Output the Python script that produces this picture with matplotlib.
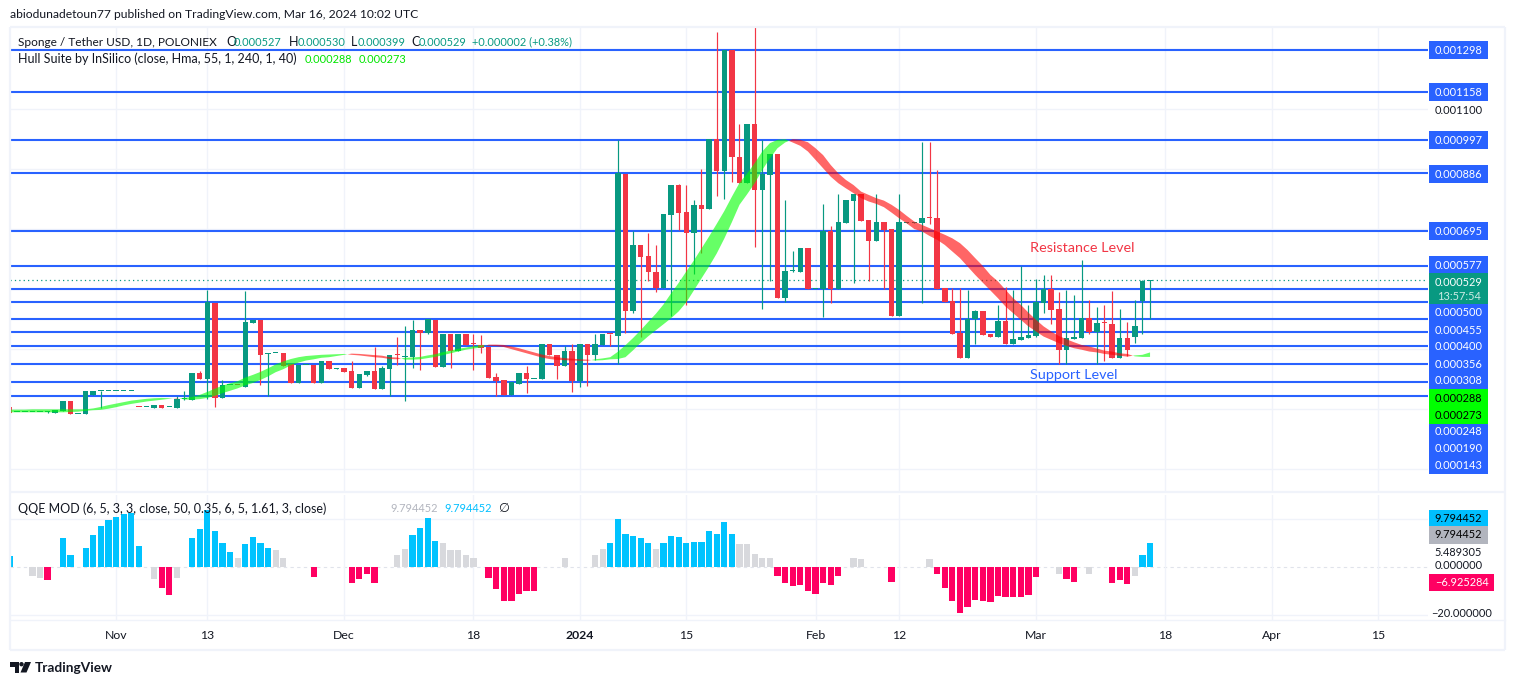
import numpy as np
import matplotlib
matplotlib.use("Agg")
import matplotlib.pyplot as plt
from matplotlib.patches import Rectangle, Polygon, Circle

plt.rcParams['font.family'] = ['Lato', 'DejaVu Sans']

# ---------- data (prices in millionths of USDT), one candle per day from 18 Oct 2023 ----------
opens = [105,88,88,88,88,88,87,93,126,82,
         81,146,158,158,158,158,158,106,105,103,
         113,105,103,131,130,220,200,452,136,178,
         179,173,387,397,284,285,287,250,186,246,
         247,186,260,234,236,226,170,213,226,166,
         233,280,274,273,363,353,397,240,350,293,
         350,316,313,307,206,196,146,184,220,198,
         198,317,280,244,293,191,317,281,314,350,
         344,884,427,647,610,557,502,748,847,757,
         688,781,768,1000,895,1298,941,855,1051,832,
         879,951,471,559,558,637,499,499,695,499,
         721,794,817,731,661,724,701,410,721,721,
         721,737,737,504,460,353,270,399,427,350,
         340,393,317,330,337,343,454,499,434,297,
         333,337,403,357,387,383,270,337,340,460,527]
highs = [105,89,89,89,89,93,96,126,126,82,
         160,160,160,159,159,159,159,106,106,113,
         113,106,144,160,220,226,497,452,196,180,
         179,494,397,397,286,286,287,250,247,247,
         247,260,260,236,236,260,216,226,306,243,
         280,340,377,397,363,400,397,350,350,350,
         350,350,347,307,220,196,189,220,244,199,
         317,317,280,308,317,317,317,350,350,350,
         997,884,692,647,686,647,751,847,851,847,
         797,900,1000,1358,1298,1298,1051,1051,1374,998,
         951,951,797,627,637,637,500,784,710,817,
         797,817,817,731,817,724,701,817,722,722,
         991,991,898,504,504,504,497,430,427,350,
         447,507,497,577,447,534,547,547,490,497,
         480,597,464,440,447,494,434,390,464,530,530]
lows = [87,88,88,88,88,87,87,93,81,81,
        81,146,101,158,158,158,158,105,105,103,
        103,105,103,130,130,200,133,106,136,178,
        178,173,387,180,144,285,244,186,186,246,
        186,186,233,234,223,170,170,210,166,166,
        141,246,127,236,230,350,240,240,236,293,
        313,230,287,203,143,146,146,184,151,198,
        198,278,200,244,157,174,177,263,314,310,
        249,352,421,338,528,491,502,410,697,445,
        550,619,768,812,801,858,855,855,641,432,
        528,471,458,558,558,499,499,405,452,499,
        721,520,727,526,661,500,410,410,721,721,
        452,717,500,457,350,270,270,317,347,340,
        340,317,317,330,337,340,420,383,250,250,
        333,337,350,250,260,270,270,277,320,350,399]
closes = [87,89,89,89,89,89,96,126,81,82,
          160,160,159,159,159,159,159,105,106,113,
          103,106,133,132,220,200,456,136,180,179,
          178,390,397,280,285,286,244,186,247,247,
          186,260,233,235,223,170,216,226,166,236,
          280,278,275,363,353,400,240,350,293,350,
          313,315,303,203,193,146,189,220,198,199,
          317,278,244,293,191,317,281,317,350,349,
          886,428,647,608,555,502,751,847,755,688,
          781,768,1000,895,1298,939,855,1051,832,883,
          951,471,559,560,637,499,500,695,499,724,
          797,817,727,661,724,697,410,724,722,722,
          737,736,500,457,350,270,400,427,347,340,
          393,317,333,340,347,456,499,430,297,337,
          340,403,357,387,385,270,337,297,377,527,529]
hull_a = [97,97,97,98,98,98,98,98,98,98,
          98,101,106,112,117,122,127,130,133,135,
          136,135,134,136,139,146,156,167,177,185,
          192,204,213,223,235,248,258,266,272,276,
          278,280,281,282,283,280,278,275,272,270,
          266,265,270,271,273,278,282,289,294,300,
          304,309,312,310,309,306,299,292,285,278,
          271,266,263,262,261,260,260,265,268,272,
          290,312,336,362,390,417,448,485,520,558,
          595,635,675,717,760,808,854,885,920,959,
          987,998,1000,989,978,959,931,903,875,853,
          836,820,803,792,784,773,755,736,719,700,
          692,677,664,647,625,603,575,547,521,495,
          469,441,419,397,375,358,341,330,319,310,
          302,297,291,288,283,280,277,274,278,280,288]
hull_b = [88,88,88,88,88,88,88,88,89,90,
          93,95,96,100,105,111,116,120,124,127,
          130,133,136,131,130,132,136,143,152,160,
          168,178,186,196,208,222,232,245,254,261,
          265,270,272,276,280,284,283,281,279,277,
          272,271,264,264,265,269,273,279,285,291,
          297,301,304,314,314,313,308,302,295,288,
          281,276,272,269,267,265,264,261,262,265,
          266,272,295,320,342,362,382,402,425,455,
          495,535,575,618,668,723,781,816,853,897,
          936,970,989,1000,998,990,970,947,914,886,
          864,847,825,814,803,795,781,764,744,725,
          714,703,692,681,669,653,630,603,577,547,
          525,497,469,447,421,397,375,358,343,332,
          322,313,308,301,294,291,285,283,275,273,273]
levels = [1298,1158,997,886,695,577,500,455,400,356,308,248,190,143]
last_price = 529
time_ticks = [14,26,44,61,75,89,106,117,135,152,166,180]
time_labels = ['Nov','13','Dec','18','2024','15','Feb','12','Mar','18','Apr','15']

qqe_idx = [0,3,4,5,7,8,10,11,12,13,14,15,16,17,19,20,21,22,
           24,25,26,27,28,29,30,31,32,33,34,35,36,40,45,46,47,48,
           51,52,53,54,55,56,57,58,59,60,61,63,64,65,66,67,68,69,73,
           77,78,79,80,81,82,83,84,85,86,87,88,89,90,91,92,93,94,95,96,97,98,99,100,
           101,102,103,104,105,106,107,108,109,111,112,116,121,
           122,123,124,125,126,127,128,129,130,131,132,133,134,135,
           138,139,140,142,145,146,147,148,149,150]
qqe_val = [4.2,-3.75,-4.9,-5.8,11.7,5,7.9,13.3,16.7,19.2,20.8,21.7,22.5,8.75,-5,-8.75,-11.7,-4.6,
           11.7,15.8,23.75,15,9.6,6.25,3.75,9.2,12.5,9.6,7.9,6.7,3.75,-4.2,-6.7,-5,-3.3,-6.7,
           5,7.1,13.3,16.25,20.4,10.8,10,6.7,6.7,5,3.75,-4.6,-9.2,-14.2,-14.2,-11.25,-10.4,-10,3.75,
           5,7.5,9.6,19.6,13.75,12.9,11.7,9.6,7.1,9.6,12.9,12.5,10,10.4,10.4,14.6,13.75,18.75,13.75,9.2,9.2,5.4,3.75,3.75,
           -3.75,-6.7,-8.3,-7.9,-10,-11.25,-6.7,-7.9,-3.75,3.75,3.3,-6.25,3.3,
           -3.3,-8.75,-14.2,-19.2,-16.7,-13.75,-14.2,-14.6,-12.1,-12.9,-12.9,-12.5,-11.7,-4.2,
           -3.3,-5.4,-6.25,-3.3,-6.7,-5.8,-7.1,-3.75,4.6,9.794]
qqe_kind = list("bggpbbbbbbbbbbgppg"
                "bbbbbbgbbbbggppppp"
                "ggbbbbgggggpppppppg"
                "ggbbbbbbgbbbbbbbbbbggggg"
                "pppppppppggpg"
                "pppppppppppppp"
                "gppgpppgbb")

# ---------- layout ----------
W, H = 1515, 685
BAR_PX = 7.603
X0 = 9.6
C_GREEN, C_RED, C_BLUE = '#089981', '#F23645', '#2962FF'
C_GRID, C_TEXT = '#F0F3FA', '#131722'

fig = plt.figure(figsize=(W/100, H/100), dpi=100, facecolor='white')

def axes_px(l, t, r, b):
    return fig.add_axes([l/W, 1-b/H, (r-l)/W, (b-t)/H])

xlim = ((10-X0)/BAR_PX, (1428-X0)/BAR_PX)
ax = axes_px(10, 27, 1428, 491)
sub = axes_px(10, 495, 1428, 620)
over = fig.add_axes([0, 0, 1, 1], facecolor='none', zorder=10)
over.set_xlim(0, W); over.set_ylim(H, 0); over.axis('off')

x = np.arange(len(opens))
o, h, l, c = map(np.array, (opens, highs, lows, closes))

# ---------- price pane ----------
ax.set_xlim(*xlim)
ax.set_ylim(-174.8, 1374.8)
ax.set_yticks(np.arange(-100, 1301, 200))
ax.set_xticks(time_ticks)
ax.tick_params(length=0, labelleft=False, labelbottom=False)
ax.grid(color=C_GRID, lw=1.0, zorder=0)
ax.set_axisbelow(True)
for s in ax.spines.values():
    s.set_visible(False)
ax.hlines(levels, *xlim, color=C_BLUE, lw=1.5, zorder=1.5)
ax.axhline(last_price, color=C_GREEN, lw=0.9, ls=(0, (1, 2.5)), zorder=1.6)
up = c >= o
colors = np.where(up, C_GREEN, C_RED)
ax.vlines(x, l, h, colors=colors, lw=0.85, zorder=2)
body_b = np.minimum(o, c)
body_h = np.maximum(np.abs(c - o), 3.4)
ax.bar(x, body_h, bottom=body_b, width=0.72, color=colors, lw=0, zorder=2.1)
a, b = np.array(hull_a, float), np.array(hull_b, float)
ax.fill_between(x, a, b, where=a >= b, interpolate=True, color='#00FF00', alpha=0.6, lw=0, zorder=3)
ax.fill_between(x, a, b, where=a <= b, interpolate=True, color='#FF0000', alpha=0.6, lw=0, zorder=3)

# ---------- QQE pane ----------
sub.set_xlim(*xlim)
sub.set_ylim((566.5-620)/2.4, (566.5-495)/2.4)
sub.set_yticks([-20, 20])
sub.set_xticks(time_ticks)
sub.set_xticklabels(time_labels, fontsize=8.8, color=C_TEXT)
for t, s in zip(sub.get_xticklabels(), time_labels):
    if s == '2024':
        t.set_fontweight('bold')
sub.tick_params(length=0, labelleft=False, pad=7)
sub.grid(color=C_GRID, lw=1.0, zorder=0)
sub.set_axisbelow(True)
for s in sub.spines.values():
    s.set_visible(False)
sub.axhline(0, color='#E0E3EB', lw=0.8, ls=(0, (3, 3)), zorder=0.5)
kind_color = {'b': '#00C3FF', 'g': '#D8D9DD', 'p': '#FF0062'}
sub.bar(qqe_idx, qqe_val, width=0.82, color=[kind_color[k] for k in qqe_kind], lw=0, zorder=2)

# ---------- frame ----------
for (x0, y0, x1, y1) in [(10, 27, 1505, 27), (10, 27, 10, 650), (1505, 27, 1505, 650),
                         (10, 650, 1505, 650), (10, 492, 1505, 492)]:
    over.plot([x0, x1], [y0, y1], color=C_GRID, lw=1.6, solid_capstyle='butt', zorder=0)
over.plot([10, 1505], [620, 620], color=C_GRID, lw=1.0, zorder=0)

# ---------- texts ----------
FS = 9.0
NUM = 7.9
def txt(px, py, s, color=C_TEXT, size=FS, ha='left', **kw):
    over.text(px, py, s, color=color, fontsize=size, ha=ha, va='center', **kw)

txt(10, 14.5, 'abiodunadetoun77 published on TradingView.com, Mar 16, 2024 10:02 UTC', size=8.7)
txt(18, 42, 'Sponge / Tether USD, 1D, POLONIEX', size=8.6)
for px, s, col, sz in [(226, 'O', C_TEXT, FS), (234, '0.000527', C_GREEN, NUM), (289, 'H', C_TEXT, FS), (298, '0.000530', C_GREEN, NUM),
                       (351, 'L', C_TEXT, FS), (358, '0.000399', C_GREEN, NUM), (411, 'C', C_TEXT, FS), (419, '0.000529', C_GREEN, NUM),
                       (472, '+0.000002 (+0.38%)', C_GREEN, NUM)]:
    txt(px, 42, s, color=col, size=sz)
txt(18, 59, 'Hull Suite by InSilico (close, Hma, 55, 1, 240, 1, 40)')
txt(305, 59, '0.000288', color='#00E600', size=NUM)
txt(359, 59, '0.000273', color='#00E600', size=NUM)
txt(18, 508.5, 'QQE MOD (6, 5, 3, 3, close, 50, 0.35, 6, 5, 1.61, 3, close)')
txt(390, 508.5, '9.794452', color='#B2B5BE', size=NUM)
txt(444, 508.5, '9.794452', color='#00BFFF', size=NUM)
txt(498, 508.5, '\u2205', color=C_TEXT)
txt(1030, 248, 'Resistance Level', color=C_RED, size=10.4)
txt(1030, 375, 'Support Level', color=C_BLUE, size=10.4)

# ---------- price scale ----------
PS = NUM
def tag(yc, s, face, tc='white', h=17.4, right=1488):
    over.add_patch(Rectangle((1429, yc-h/2), right-1429, h, fc=face, ec='none', zorder=3))
    over.text((1429+right)/2, yc, s, color=tc, fontsize=PS, ha='center', va='center', zorder=4)

level_tag_y = [50, 92, 140, 174, 231, 265, 312.7, 330, 346.7, 364, 380.7, 431.7, 448.7, 465.7]
for v, yc in zip(levels, level_tag_y):
    tag(yc, f'{v/1e6:.6f}', C_BLUE)
txt(1458.5, 110, '0.001100', size=PS, ha='center')
over.add_patch(Rectangle((1429, 273), 59, 30.5, fc=C_GREEN, ec='none', zorder=3))
over.text(1458.5, 282, f'{last_price/1e6:.6f}', color='white', fontsize=PS, ha='center', va='center', zorder=4)
over.text(1458.5, 296, '13:57:54', color='#CDEBE5', fontsize=PS, ha='center', va='center', zorder=4)
tag(398, f'{hull_a[-1]/1e6:.6f}', '#00FF00', tc='black')
tag(415, f'{hull_b[-1]/1e6:.6f}', '#00FF00', tc='black')
tag(518.5, '9.794452', '#00BFFF', tc='black')
tag(535, '9.794452', '#B2B5BE', tc='black')
txt(1458.5, 552.7, '5.489305', size=PS, ha='center')
txt(1458.5, 565.7, '0.000000', size=PS, ha='center')
tag(582.5, '\u22126.925284', '#FF0062', right=1494)
txt(1461.5, 613.5, '\u221220.000000', size=PS, ha='center')

# ---------- brand ----------
over.add_patch(Polygon([(10, 662), (19, 662), (19, 672.5), (14.5, 672.5), (14.5, 666.5), (10, 666.5)], fc=C_TEXT, ec='none'))
over.add_patch(Circle((21.5, 664.2), 2.2, fc=C_TEXT, ec='none'))
over.add_patch(Polygon([(25, 662), (31, 662), (26.5, 672.5), (20.5, 672.5)], fc=C_TEXT, ec='none'))
txt(35, 667.5, 'TradingView', size=9.8, fontweight='bold')

fig.savefig('out.png', dpi=100, facecolor='white')
